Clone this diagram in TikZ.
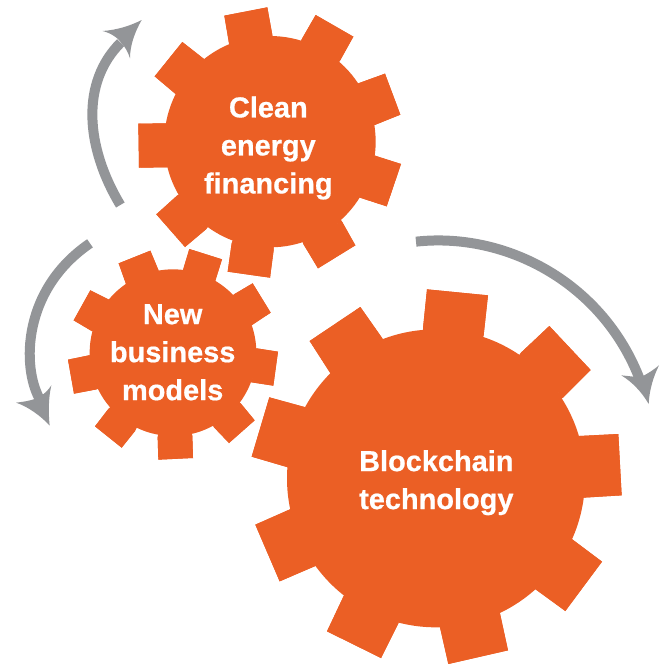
\documentclass[tikz,border=0pt]{standalone}
\usepackage{fontspec}
\setmainfont{Liberation Sans}
\newfontfamily\gearfont[FakeBold=0.6]{Liberation Sans Bold}
\definecolor{gearorange}{HTML}{EB5F25}
\definecolor{arrowgray}{HTML}{939598}
\tikzset{
  gearpart/.style={fill=gearorange},
  shaft/.style={draw=arrowgray,line width=7.5pt,line cap=butt},
  headtip/.style={fill=arrowgray},
  gearlabel/.style={text=white,align=center,font=\gearfont\fontsize{21.7}{28.5}\selectfont,inner sep=0pt}
}
\newcommand{\geartooth}[5]{%
  \fill[gearpart] (#2) -- (#3) -- (#4) -- (#5) -- cycle;
  \fill[gearpart] (#1) -- (#2) -- (#3) -- cycle;
  \fill[gearpart] (#1) -- (#3) -- (#4) -- cycle;
  \fill[gearpart] (#1) -- (#4) -- (#5) -- cycle;
  \fill[gearpart] (#1) -- (#5) -- (#2) -- cycle;
}
\begin{document}
\begin{tikzpicture}[x=0.25pt,y=-0.25pt]
\useasboundingbox (0,0) rectangle (1995,1992);
% top gear
\begin{scope}[xshift=60pt]
\coordinate (c1) at (570,425);
\fill[gearpart] (c1) circle (317);
\foreach \a/\b/\c/\d in {
 {433,47}/{562,22}/{577,105}/{447,130},
 {707,45}/{820,110}/{780,182}/{665,118},
 {835,250}/{915,221}/{961,344}/{884,375},
 {885,467}/{963,492}/{920,619}/{840,593},
 {785,663}/{826,736}/{714,805}/{670,732},
 {581,750}/{570,833}/{443,815}/{455,730},
 {378,688}/{315,741}/{229,643}/{291,587},
 {262,502}/{177,503}/{175,371}/{260,370},
 {288,283}/{224,229}/{307,126}/{372,177}}
 {\geartooth{c1}{\a}{\b}{\c}{\d}}
\node[gearlabel] (clean) at (565,444) {Clean\\energy\\financing};
\coordinate (a1s) at (121,615);
\coordinate (a1n) at (122,128);
\draw[shaft] (a1s) .. controls (16,440) and (2,248) .. (a1n);
\fill[headtip] (185,60) .. controls (150,78) and (110,90) .. (68,93)
  .. controls (95,100) and (115,115) .. (125,130)
  .. controls (135,140) and (145,158) .. (150,175)
  .. controls (150,135) and (165,95) .. (185,60) -- cycle;
\end{scope}
% small gear
\begin{scope}[xshift=7.5pt,yshift=-172.5pt]
\coordinate (c2) at (489,368);
\fill[gearpart] (c2) circle (250);
\foreach \a/\b/\c/\d in {
 {326,100}/{421,62}/{446,122}/{348,162},
 {538,57}/{636,88}/{616,152}/{519,120},
 {672,193}/{728,160}/{782,248}/{726,285},
 {740,355}/{804,365}/{790,467}/{725,457},
 {692,520}/{734,571}/{657,639}/{612,592},
 {547,618}/{549,684}/{445,689}/{443,622},
 {375,603}/{335,653}/{255,589}/{295,537},
 {260,478}/{192,491}/{174,389}/{237,376},
 {245,303}/{191,271}/{241,181}/{297,209}}
 {\geartooth{c2}{\a}{\b}{\c}{\d}}
\node[gearlabel] (newb) at (488,367) {New\\business\\models};
\coordinate (a2s) at (240,40);
\coordinate (a2n) at (88,505);
\draw[shaft] (a2s) .. controls (35,180) and (37,412) .. (a2n);
\fill[headtip] (119,587) .. controls (95,560) and (55,530) .. (18,518)
  .. controls (45,515) and (75,510) .. (92,498)
  .. controls (105,490) and (115,480) .. (124,466)
  .. controls (115,505) and (115,550) .. (119,587) -- cycle;
\end{scope}
% big gear
\begin{scope}[xshift=180pt,yshift=-172.5pt]
\coordinate (c3) at (588,745);
\fill[gearpart] (c3) circle (447);
\foreach \a/\b/\c/\d in {
 {561,178}/{744,196}/{731,315}/{549,295},
 {843,368}/{928,288}/{1052,420}/{970,502},
 {1018,618}/{1135,612}/{1145,796}/{1030,803},
 {994,926}/{1086,995}/{976,1143}/{884,1076},
 {779,1146}/{804,1261}/{625,1302}/{600,1192},
 {475,1180}/{423,1284}/{261,1204}/{311,1098},
 {226,1008}/{119,1054}/{46,884}/{150,838},
 {144,712}/{35,680}/{88,502}/{197,532},
 {272,431}/{209,333}/{361,231}/{427,325}}
 {\geartooth{c3}{\a}{\b}{\c}{\d}}
\node[gearlabel] (block) at (589,758) {Blockchain\\technology};
\coordinate (a3s) at (528,35);
\coordinate (a3n) at (1200,450);
\draw[shaft] (a3s) .. controls (800,5) and (1090,160) .. (a3n);
\fill[headtip] (1226,522) .. controls (1205,485) and (1175,455) .. (1144,436)
  .. controls (1165,438) and (1190,442) .. (1205,440)
  .. controls (1225,430) and (1240,420) .. (1257,406)
  .. controls (1240,440) and (1228,480) .. (1226,522) -- cycle;
\end{scope}
\end{tikzpicture}
\end{document}
